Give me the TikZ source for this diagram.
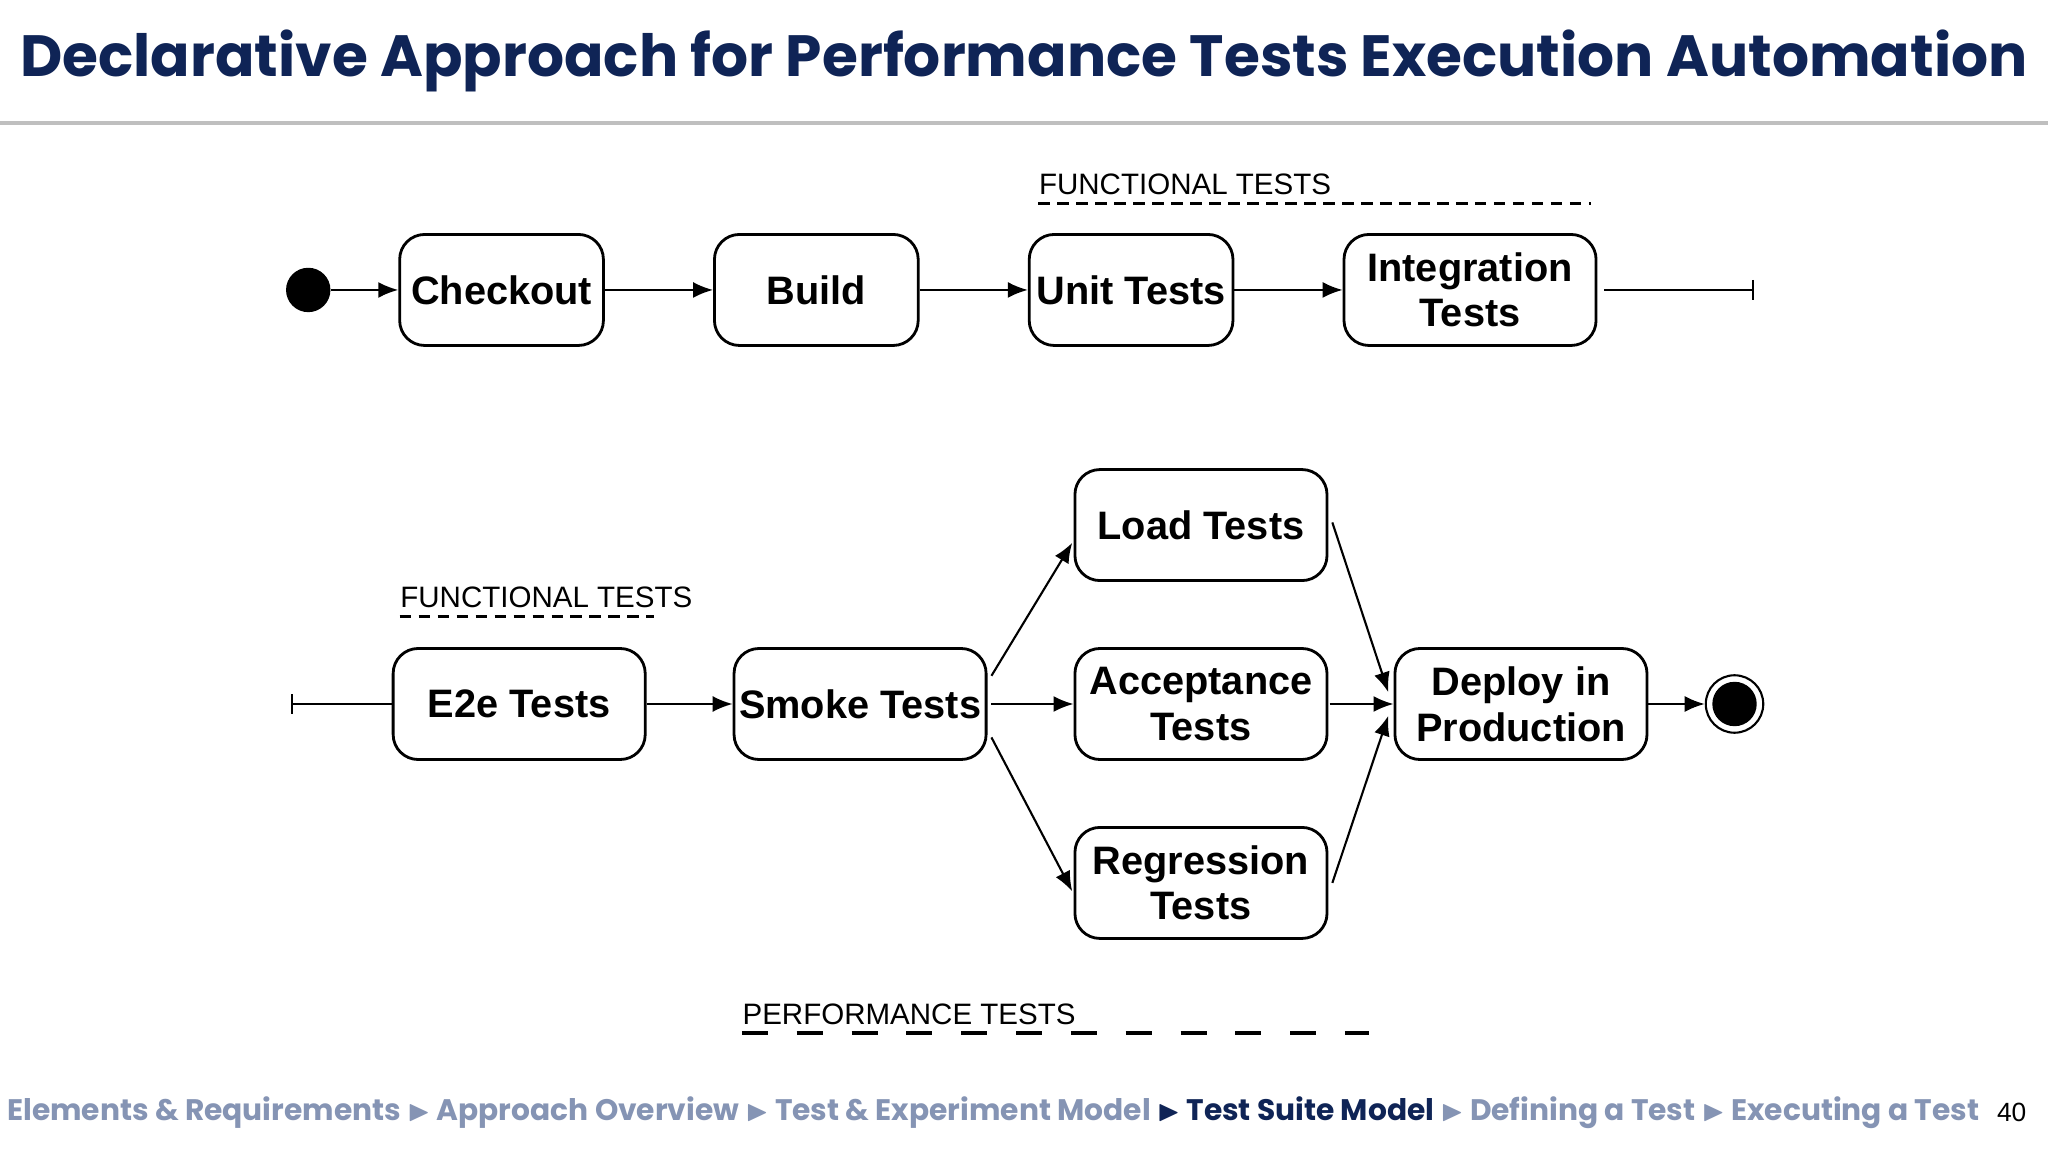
\documentclass[tikz,border=0pt]{standalone}
\usepackage{amssymb}
\usepackage{graphicx}
\usepackage{fontspec}
\setmainfont{Liberation Sans}
\newfontfamily\titlefont{Poppins}
\usetikzlibrary{arrows.meta,calc}
\definecolor{navy}{HTML}{0F2456}
\definecolor{crumb}{HTML}{8594B4}
\begin{document}
\begin{tikzpicture}[x=0.013061cm,y=-0.013061cm,
  box/.style={draw,rounded corners=2.5mm,thick,minimum width=156*0.013061cm,minimum height=85*0.013061cm,align=center,font=\fontsize{11.3}{13}\selectfont\bfseries,inner sep=1pt},
  wide/.style={box,minimum width=193*0.013061cm},
  conn/.style={semithick,-{Latex[length=2mm,width=1.6mm]}},
  lbl/.style={font=\fontsize{8.4}{10}\selectfont,anchor=south west,inner sep=0pt}]
\useasboundingbox[fill=white] (0,0) rectangle (1568,882);
% title
\node[font=\titlefont\fontsize{21}{24}\selectfont\bfseries,text=navy,inner sep=0] (title) at (784,47) {\resizebox{20.07cm}{!}{Declarative Approach for Performance Tests Execution Automation}};
\draw[line width=1.2pt,color=gray!50] (0,94) -- (1568,94);
% row 1
\node[circle,fill=black,minimum size=34*0.013061cm,inner sep=0] (init) at (236,222) {};
\node[box] (co) at (384,222) {Checkout};
\node[box] (bu) at (625,222) {Build};
\node[box] (ut) at (866,222) {Unit Tests};
\node[wide] (it) at (1125.5,222) {Integration\\Tests};
\coordinate (r1end) at (1343,222);
\draw[conn] (init) -- (co);
\draw[conn] (co) -- (bu);
\draw[conn] (bu) -- (ut);
\draw[conn] (ut) -- (it);
\draw[semithick,-{Bar[width=2mm]}] ($(it.east)+(5,0)$) -- (r1end);
\node[lbl] (f1) at (795,150) {FUNCTIONAL TESTS};
\draw[thick,dash pattern=on 3.3pt off 2.1pt] (795,156) -- (1218,156);
% row 2
\coordinate (r2start) at (223,539);
\node[wide] (e2e) at (397.5,539) {E2e Tests};
\node[wide] (sm) at (658.5,539) {Smoke Tests};
\node[wide] (lo) at (919.5,402) {Load Tests};
\node[wide] (ac) at (919.5,539) {Acceptance\\Tests};
\node[wide] (re) at (919.5,676) {Regression\\Tests};
\node[wide] (de) at (1164.5,539) {Deploy in\\Production};
\node[circle,draw,semithick,minimum size=44*0.013061cm,inner sep=0] (fin) at (1328,539) {};
\node[circle,fill=black,minimum size=34*0.013061cm,inner sep=0] (finin) at (fin) {};
\draw[semithick,{Bar[width=2mm]}-] (r2start) -- (e2e);
\draw[conn] (e2e) -- (sm);
\draw[conn] ($(sm.north east)+(3,22)$) -- ($(lo.south west)+(-1,-30)$);
\draw[conn] ($(sm.east)+(3,0)$) -- (ac);
\draw[conn] ($(sm.south east)+(3,-18)$) -- ($(re.north west)+(-1,50)$);
\draw[conn] ($(lo.east)+(3,-2)$) -- ($(de.west)+(-4,-9)$);
\draw[conn] ($(ac.east)+(1,0)$) -- (de);
\draw[conn] ($(re.east)+(3,0)$) -- ($(de.west)+(-4,9)$);
\draw[conn] (de) -- (fin);
\node[lbl] (f2) at (306,466) {FUNCTIONAL TESTS};
\draw[thick,dash pattern=on 3.3pt off 2.1pt] (306,472) -- (501,472);
\node[lbl] (pf) at (568,785) {PERFORMANCE TESTS};
\draw[line width=1.3pt,dash pattern=on 7.4pt off 8.2pt] (568,791) -- (1048,791);
% footer
\node[anchor=west,inner sep=0,font=\titlefont\fontsize{8.4}{10}\selectfont\bfseries,text=crumb] (foot) at (5,852) {\resizebox{19.72cm}{!}{Elements \& Requirements $\blacktriangleright$ Approach Overview $\blacktriangleright$ Test \& Experiment Model \textcolor{navy}{$\blacktriangleright$ Test Suite Model} $\blacktriangleright$ Defining a Test $\blacktriangleright$ Executing a Test}};
\node[anchor=east,inner sep=0,font=\fontsize{7.5}{9}\selectfont] (pg) at (1552,852) {40};
\end{tikzpicture}
\end{document}
